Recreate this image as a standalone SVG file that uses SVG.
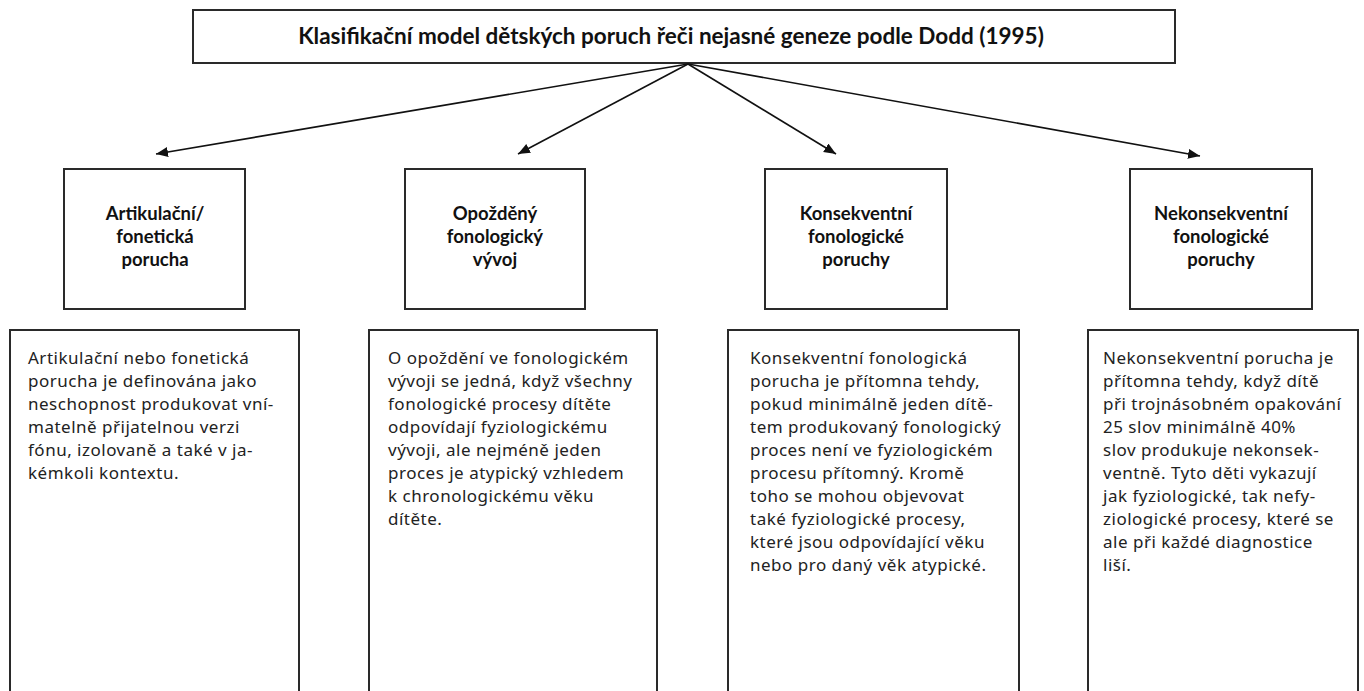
<svg xmlns="http://www.w3.org/2000/svg" width="1364" height="691" viewBox="0 0 1364 691">
<style>
.box{fill:#fff;stroke:#2a2a2a;stroke-width:2}
.title{font-family:Lato,"Liberation Sans",sans-serif;font-weight:bold;font-size:22.5px;fill:#111;text-anchor:middle}
.lbl{font-family:Lato,"Liberation Sans",sans-serif;font-weight:bold;font-size:18.5px;fill:#111;text-anchor:middle}
.body{font-family:"Noto Sans","Liberation Sans",sans-serif;font-size:17px;letter-spacing:0.5px;fill:#222}
.conn{stroke:#111;stroke-width:1.6;fill:none;marker-end:url(#arr)}
</style>
<defs>
<marker id="arr" markerUnits="userSpaceOnUse" markerWidth="14" markerHeight="12" refX="12" refY="5" orient="auto">
<path d="M0,0 L12,5 L0,10 Z" fill="#111"/>
</marker>
</defs>
<rect width="1364" height="691" fill="#fff"/>
<g id="title">
<rect class="box" x="193" y="10" width="982" height="53"/>
<text class="title" x="671" y="44">Klasifikační model dětských poruch řeči nejasné geneze podle Dodd (1995)</text>
</g>
<g id="connectors">
<line class="conn" x1="688" y1="64" x2="156" y2="154"/>
<line class="conn" x1="688" y1="64" x2="518" y2="154"/>
<line class="conn" x1="688" y1="64" x2="836" y2="154"/>
<line class="conn" x1="688" y1="64" x2="1200" y2="156"/>
</g>
<g id="label1">
<rect class="box" x="64" y="169" width="181" height="140"/>
<text class="lbl" x="155" y="220">Artikulační/</text>
<text class="lbl" x="155" y="243">fonetická</text>
<text class="lbl" x="155" y="266">porucha</text>
</g>
<g id="label2">
<rect class="box" x="405" y="169" width="180" height="140"/>
<text class="lbl" x="495" y="220">Opožděný</text>
<text class="lbl" x="495" y="243">fonologický</text>
<text class="lbl" x="495" y="266">vývoj</text>
</g>
<g id="label3">
<rect class="box" x="765" y="169" width="182" height="140"/>
<text class="lbl" x="856" y="220">Konsekventní</text>
<text class="lbl" x="856" y="243">fonologické</text>
<text class="lbl" x="856" y="266">poruchy</text>
</g>
<g id="label4">
<rect class="box" x="1130" y="169" width="182" height="140"/>
<text class="lbl" x="1221" y="220">Nekonsekventní</text>
<text class="lbl" x="1221" y="243">fonologické</text>
<text class="lbl" x="1221" y="266">poruchy</text>
</g>
<g id="desc1">
<rect class="box" x="10" y="330" width="289" height="380"/>
<text class="body" x="28" y="364">
<tspan x="28" dy="0">Artikulační nebo fonetická</tspan>
<tspan x="28" dy="23">porucha je definována jako</tspan>
<tspan x="28" dy="23">neschopnost produkovat vní-</tspan>
<tspan x="28" dy="23">matelně přijatelnou verzi</tspan>
<tspan x="28" dy="23">fónu, izolovaně a také v ja-</tspan>
<tspan x="28" dy="23">kémkoli kontextu.</tspan>
</text>
</g>
<g id="desc2">
<rect class="box" x="369" y="330" width="288" height="380"/>
<text class="body" x="388" y="364">
<tspan x="388" dy="0">O opoždění ve fonologickém</tspan>
<tspan x="388" dy="23">vývoji se jedná, když všechny</tspan>
<tspan x="388" dy="23">fonologické procesy dítěte</tspan>
<tspan x="388" dy="23">odpovídají fyziologickému</tspan>
<tspan x="388" dy="23">vývoji, ale nejméně jeden</tspan>
<tspan x="388" dy="23">proces je atypický vzhledem</tspan>
<tspan x="388" dy="23">k chronologickému věku</tspan>
<tspan x="388" dy="23">dítěte.</tspan>
</text>
</g>
<g id="desc3">
<rect class="box" x="728" y="330" width="291" height="380"/>
<text class="body" x="750" y="364">
<tspan x="750" dy="0">Konsekventní fonologická</tspan>
<tspan x="750" dy="23">porucha je přítomna tehdy,</tspan>
<tspan x="750" dy="23">pokud minimálně jeden dítě-</tspan>
<tspan x="750" dy="23">tem produkovaný fonologický</tspan>
<tspan x="750" dy="23">proces není ve fyziologickém</tspan>
<tspan x="750" dy="23">procesu přítomný. Kromě</tspan>
<tspan x="750" dy="23">toho se mohou objevovat</tspan>
<tspan x="750" dy="23">také fyziologické procesy,</tspan>
<tspan x="750" dy="23">které jsou odpovídající věku</tspan>
<tspan x="750" dy="23">nebo pro daný věk atypické.</tspan>
</text>
</g>
<g id="desc4">
<rect class="box" x="1088" y="330" width="270" height="380"/>
<text class="body" x="1103" y="364">
<tspan x="1103" dy="0">Nekonsekventní porucha je</tspan>
<tspan x="1103" dy="23">přítomna tehdy, když dítě</tspan>
<tspan x="1103" dy="23">při trojnásobném opakování</tspan>
<tspan x="1103" dy="23">25 slov minimálně 40%</tspan>
<tspan x="1103" dy="23">slov produkuje nekonsek-</tspan>
<tspan x="1103" dy="23">ventně. Tyto děti vykazují</tspan>
<tspan x="1103" dy="23">jak fyziologické, tak nefy-</tspan>
<tspan x="1103" dy="23">ziologické procesy, které se</tspan>
<tspan x="1103" dy="23">ale při každé diagnostice</tspan>
<tspan x="1103" dy="23">liší.</tspan>
</text>
</g>
</svg>
